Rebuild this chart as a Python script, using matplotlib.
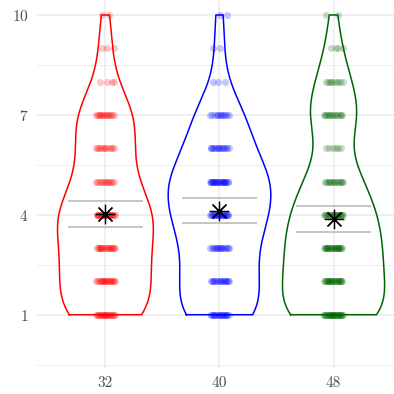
import matplotlib; matplotlib.use('Agg')
import matplotlib.pyplot as plt
import numpy as np

plt.rcParams.update({
    'font.family': 'serif', 'font.serif': ['cmr10', 'DejaVu Serif'],
    'font.size': 11, 'axes.formatter.use_mathtext': True,
})

# responses per group: how many answers at each score 1..10
groups = ['32', '40', '48']
scores = [1, 2, 3, 4, 5, 6, 7, 8, 9, 10]
counts_32 = [21, 20, 19, 24, 13, 12, 15, 4, 3, 2]
counts_40 = [19, 17, 16, 22, 24, 15, 12, 3, 2, 2]
counts_48 = [28, 24, 24, 22, 15, 6, 14, 9, 4, 2]
colors = ['#ff0000', '#0000ff', '#006400']

samples = [np.repeat(scores, c).astype(float)
           for c in (counts_32, counts_40, counts_48)]


def nrd0(x):
    iqr = np.subtract(*np.percentile(x, [75, 25]))
    s = min(np.std(x, ddof=1), iqr / 1.34)
    return 0.9 * s * len(x) ** -0.2


def kde(x, grid):
    bw = nrd0(x)
    z = (grid[:, None] - x[None, :]) / bw
    return np.exp(-0.5 * z ** 2).sum(axis=1) / (len(x) * bw * np.sqrt(2 * np.pi))


dens = []
for x in samples:
    g = np.linspace(x.min(), x.max(), 512)
    dens.append((g, kde(x, g)))
dmax = max(d.max() for _, d in dens)

fig = plt.figure(figsize=(3.94, 3.94), dpi=100)
ax = fig.add_axes([37 / 394, 26 / 394, 357 / 394, 368 / 394])
ax.set_xlim(0.4, 3.53)
ax.set_ylim(-0.6, 10.45)

for i, (x, (g, d), col) in enumerate(zip(samples, dens, colors)):
    pos = i + 1
    hw = 0.45 * d / dmax
    ax.plot(np.concatenate([pos - hw, (pos + hw)[::-1], [pos - hw[0]]]),
            np.concatenate([g, g[::-1], [g[0]]]),
            color=col, lw=1.1, zorder=3)
    # sideways spread of each score's points (golden-ratio sequence)
    xs = []
    for v in scores:
        k = int((x == v).sum())
        if k == 0:
            continue
        frac = (np.arange(k) * 0.618034 + v * 0.37 + i * 0.21) % 1.0
        xs.append(pos + (frac - 0.5) * 0.17)
    xs = np.concatenate(xs)
    ax.scatter(xs, x, s=26, color=col, alpha=0.22, lw=0, zorder=4)
    m = x.mean()
    ci = 1.96 * x.std(ddof=1) / np.sqrt(len(x))
    ax.hlines([m - ci, m + ci], pos - 0.325, pos + 0.325,
              color='#b5b5b5', lw=1.1, zorder=5)
    ax.plot(pos, m, marker=(8, 2, 0), ms=14, mew=0.9, color='black',
            ls='none', zorder=6)

ax.set_xticks([1, 2, 3])
ax.set_xticklabels(groups)
ax.set_yticks([1, 4, 7, 10])
ax.set_yticks([-0.5, 2.5, 5.5, 8.5], minor=True)
ax.grid(True, which='major', color='#ebebeb', lw=1.1)
ax.grid(True, which='minor', axis='y', color='#ebebeb', lw=0.6)
ax.set_axisbelow(True)
ax.tick_params(which='both', length=0, colors='#4d4d4d', labelsize=11)
ax.tick_params(axis='x', pad=6)
ax.tick_params(axis='y', pad=6)
for s in ax.spines.values():
    s.set_visible(False)

fig.savefig('out.png', dpi=100)
